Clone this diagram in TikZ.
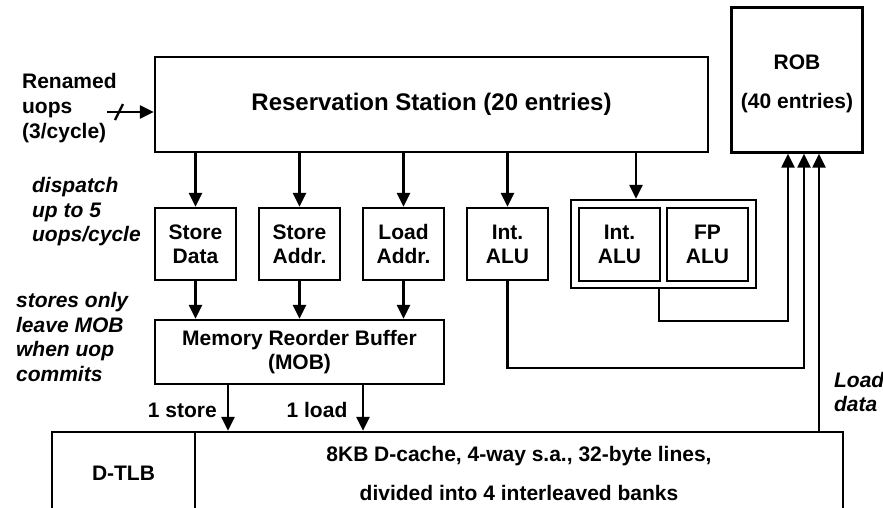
\documentclass[tikz,border=0pt]{standalone}
\usepackage{fontspec}
\setmainfont{Liberation Sans}
\usetikzlibrary{arrows.meta}

\begin{document}
\begin{tikzpicture}[x=1pt,y=-1pt,
  line width=2.3pt,
  box/.style={draw, line width=2.3pt, inner sep=0pt, align=center,
    font=\bfseries\fontsize{21}{24}\selectfont},
  unit/.style={box, minimum width=81pt, minimum height=72pt},
  arr/.style={-{Triangle[width=13pt,length=14pt]}, line width=2.3pt},
  lab/.style={inner sep=0pt, align=left, anchor=west,
    font=\bfseries\fontsize{21}{25}\selectfont},
  note/.style={lab, font=\bfseries\itshape\fontsize{21}{24.5}\selectfont},
]
\useasboundingbox (0,0) rectangle (883,507);

% main blocks
\node[box, minimum width=553pt, minimum height=95pt,
  font=\bfseries\fontsize{24}{28}\selectfont] (rs) at (431.5,104.5)
  {Reservation Station (20 entries)};
\node[box, minimum width=131pt, minimum height=145pt] (rob) at (797,80) {};
\node[inner sep=0pt, align=center, font=\bfseries\fontsize{21}{25}\selectfont]
  (robtxt) at ([yshift=-4pt]rob.center) {ROB\\[14pt](40 entries)};

% execution units
\node[unit] (sd) at (195.5,244) {Store\\Data};
\node[unit] (sa) at (299.5,244) {Store\\Addr.};
\node[unit] (la) at (403.5,244) {Load\\Addr.};
\node[unit] (ia) at (507.5,244) {Int.\\ALU};
\node[box, minimum width=185pt, minimum height=88pt] (alus) at (663.5,244) {};
\node[box, minimum width=81pt, minimum height=73pt] (ia2) at (619.5,244.5) {Int.\\ALU};
\node[box, minimum width=81pt, minimum height=73pt] (fp) at (707.5,244.5) {FP\\ALU};

% memory side
\node[box, minimum width=289pt, minimum height=64pt] (mob) at (299.5,352)
  {Memory Reorder Buffer\\(MOB)};
\node[box, minimum width=143pt, minimum height=82pt,
  font=\bfseries\fontsize{21}{25}\selectfont] (tlb) at (123.5,473) {D-TLB};
\node[box, minimum width=648pt, minimum height=82pt,
  font=\bfseries\fontsize{21}{25}\selectfont] (cache) at (519,473)
  {8KB D-cache, 4-way s.a., 32-byte lines,\\[14pt]divided into 4 interleaved banks};

% dispatch from the reservation station
\foreach \u in {sd,sa,la,ia}
  \draw[arr] (\u.north |- rs.south) -- (\u.north);
\coordinate (c1) at (636,0);
\draw[arr] (rs.south -| c1) -- (alus.north -| c1);

% into the MOB
\foreach \u in {sd,sa,la}
  \draw[arr] (\u.south) -- (\u.south |- mob.north);

% MOB to the cache
\coordinate (s1) at (228,0);
\coordinate (s2) at (363,0);
\draw[arr] (mob.south -| s1) -- (cache.north -| s1);
\draw[arr] (mob.south -| s2) -- (cache.north -| s2);

% results back to the ROB
\coordinate (f1) at (788,0);
\coordinate (f2) at (804,0);
\coordinate (f3) at (819,0);
\coordinate (g1) at (659,321);
\coordinate (g2) at (0,368);
\draw[arr] (alus.south -| g1) -- (g1) -| (rob.south -| f1);
\draw[arr] (ia.south) -- (ia.south |- g2) -| (rob.south -| f2);
\draw[arr] (cache.north -| f3) -- (rob.south -| f3);

% renamed uops input
\coordinate (in) at (107,112);
\draw[arr] (in) -- (in -| rs.west);
\draw ([shift={(8,8)}]in) -- ([shift={(16,-8)}]in);

% annotations
\node[lab] (ren) at (21,108) {Renamed\\uops\\(3/cycle)};
\node[note] (disp) at (31,212) {dispatch\\up to 5\\uops/cycle};
\node[note] (stn) at (15,337) {stores only\\leave MOB\\when uop\\commits};
\node[lab, anchor=east] (lst) at (218,410) {1 store};
\node[lab, anchor=center] (lld) at (317,410) {1 load};
\node[note] (ldd) at (833,392) {Load\\data};
\end{tikzpicture}
\end{document}
